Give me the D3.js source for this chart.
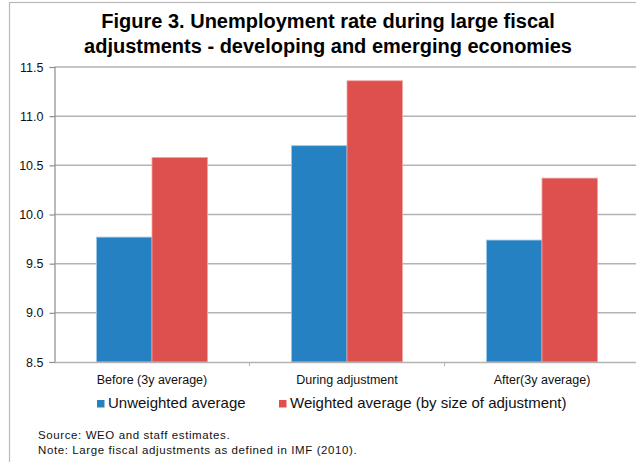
<!DOCTYPE html>
<html>
<head>
<meta charset="utf-8">
<script src="https://cdn.jsdelivr.net/npm/d3@7"></script>
<style>
html,body{margin:0;padding:0;background:#fff;}
svg{display:block;font-family:"Liberation Sans",Arial,sans-serif;}
</style>
</head>
<body>
<svg id="chart" width="636" height="462"></svg>
<script>
const categories = ["Before (3y average)", "During adjustment", "After(3y average)"];
const seriesNames = ["Unweighted average", "Weighted average (by size of adjustment)"];
const unweighted = [9.77, 10.70, 9.74];
const weighted = [10.58, 11.36, 10.37];
const yTicks = [8.5, 9.0, 9.5, 10.0, 10.5, 11.0, 11.5];
const titleLines = ["Figure 3. Unemployment rate during large fiscal", "adjustments - developing and emerging economies"];
const notes = ["Source: WEO and staff estimates.", "Note: Large fiscal adjustments as defined in IMF (2010)."];
const colors = ["#2581c2", "#de504e"];

const svg = d3.select("#chart");
const plot = {left: 54.5, right: 639.5, top: 67, bottom: 362};

// outer frame
svg.append("rect").attr("x", 9.5).attr("y", 2.5).attr("width", 700).attr("height", 500)
  .attr("fill", "none").attr("stroke", "#b9b9b9").attr("stroke-width", 1.2);

// title
svg.append("g").selectAll("text").data(titleLines).join("text")
  .attr("x", 328).attr("y", (d, i) => 28 + i * 25)
  .attr("text-anchor", "middle").attr("font-weight", "bold").attr("font-size", 20)
  .attr("fill", "#000").text(d => d);

const x0 = d3.scaleBand().domain(categories).range([plot.left, plot.right]).padding(0);
const x1 = d3.scaleBand().domain([0, 1]).range([0, x0.bandwidth()]).paddingInner(0).paddingOuter(0.757);
const y = d3.scaleLinear().domain([8.5, 11.5]).range([plot.bottom, plot.top]);

// gridlines
svg.append("g").selectAll("line").data(yTicks.slice(1)).join("line")
  .attr("x1", plot.left).attr("x2", 636)
  .attr("y1", d => y(d)).attr("y2", d => y(d))
  .attr("stroke", "#b3b3b3").attr("stroke-width", 1.5);

// y axis
const yAxis = d3.axisLeft(y).tickValues(yTicks).tickFormat(d3.format(".1f")).tickSize(5).tickPadding(6);
const gy = svg.append("g").attr("transform", `translate(${plot.left},0)`).call(yAxis);
gy.select(".domain").attr("stroke", "#8c8c8c").attr("stroke-width", 1.2);
gy.selectAll(".tick line").attr("stroke", "#8c8c8c").attr("stroke-width", 1.2);
gy.selectAll(".tick text").attr("font-size", 12.5).attr("fill", "#111")
  .attr("font-family", "Liberation Sans, Arial, sans-serif");

// bars
const data = categories.map((c, i) => ({cat: c, vals: [unweighted[i], weighted[i]]}));
const groups = svg.append("g").selectAll("g").data(data).join("g")
  .attr("transform", d => `translate(${x0(d.cat)},0)`);
groups.selectAll("rect").data(d => d.vals.map((v, k) => ({k, v}))).join("rect")
  .attr("x", d => x1(d.k)).attr("width", x1.bandwidth())
  .attr("y", d => y(d.v)).attr("height", d => y(8.5) - y(d.v))
  .attr("fill", d => colors[d.k])
  .attr("stroke", d => d.k === 0 ? "#9cc6e6" : "#f0a4a3").attr("stroke-width", 0.8);

// x axis
const xAxis = d3.axisBottom(x0).tickSize(0).tickPadding(13);
const gx = svg.append("g").attr("transform", `translate(0,${plot.bottom})`).call(xAxis);
gx.select(".domain").attr("stroke", "#b3b3b3").attr("stroke-width", 1.5);
gx.selectAll(".tick text").attr("font-size", 12.5).attr("fill", "#111")
  .attr("font-family", "Liberation Sans, Arial, sans-serif");
// category separator ticks
svg.append("g").selectAll("line").data(categories.slice(1)).join("line")
  .attr("x1", d => x0(d)).attr("x2", d => x0(d))
  .attr("y1", plot.bottom).attr("y2", plot.bottom + 4)
  .attr("stroke", "#b3b3b3").attr("stroke-width", 1);

// legend
const legendX = [97, 279];
const lg = svg.append("g").selectAll("g").data(seriesNames).join("g")
  .attr("transform", (d, i) => `translate(${legendX[i]},400)`);
lg.append("rect").attr("width", 7.5).attr("height", 7.5).attr("fill", (d, i) => colors[i]);
lg.append("text").attr("x", 11).attr("y", 8).attr("font-size", 15).attr("fill", "#111").text(d => d);

// notes
svg.append("g").selectAll("text").data(notes).join("text")
  .attr("x", 38).attr("y", (d, i) => 439 + i * 14.5)
  .attr("font-size", 11.5).attr("letter-spacing", 0.6).attr("fill", "#111").text(d => d);
</script>
</body>
</html>
